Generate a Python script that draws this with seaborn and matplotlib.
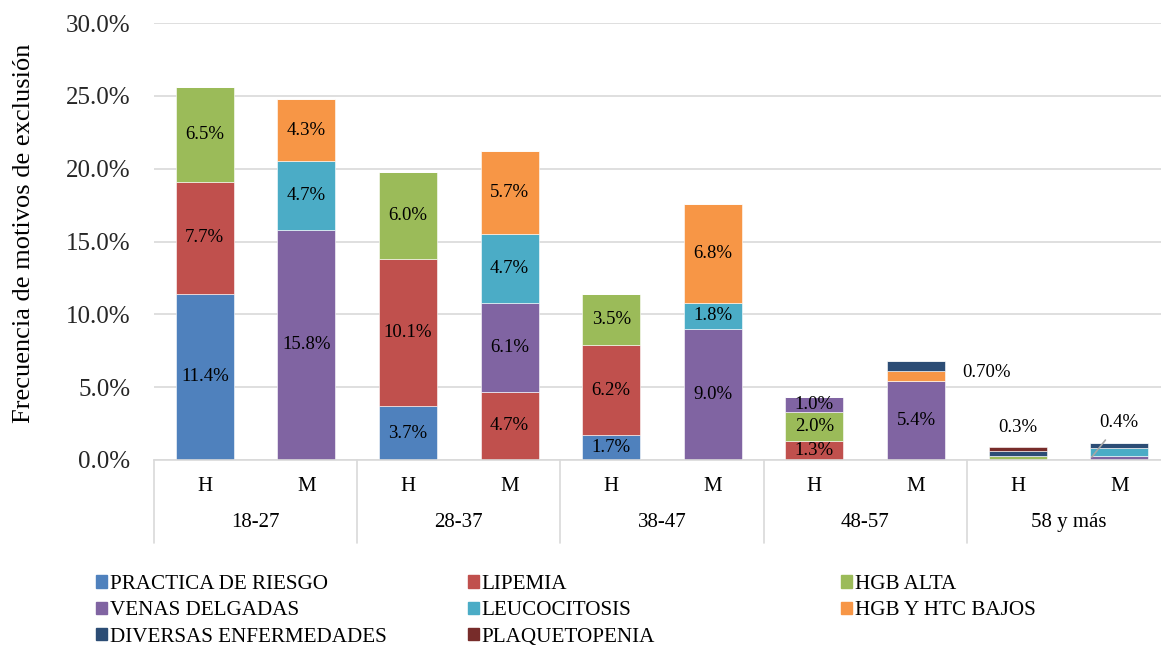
import numpy as np
import pandas as pd
import matplotlib
matplotlib.use("Agg")
import matplotlib.pyplot as plt
import matplotlib.patches as mpatches
import matplotlib.transforms as mtransforms
import seaborn as sns

# Data (percent of exclusions), one value per bar: age group x sex
age_groups = ["18-27", "28-37", "38-47", "48-57", "58 y más"]
sexes = ["H", "M"]

series_names = [
    "PRACTICA DE RIESGO", "LIPEMIA", "HGB ALTA", "VENAS DELGADAS",
    "LEUCOCITOSIS", "HGB Y HTC BAJOS", "DIVERSAS ENFERMEDADES", "PLAQUETOPENIA",
]
series_colors = [
    "#4F81BD", "#C0504D", "#9BBB59", "#8064A2",
    "#4BACC6", "#F79646", "#2C4D75", "#772C2A",
]

#                18-27 H/M    28-37 H/M    38-47 H/M    48-57 H/M    58+ H/M
practica     = [11.4, 0.0,   3.7, 0.0,    1.7, 0.0,    0.0, 0.0,    0.0, 0.0]
lipemia      = [7.7,  0.0,   10.1, 4.7,   6.2, 0.0,    1.3, 0.0,    0.0, 0.0]
hgb_alta     = [6.5,  0.0,   6.0, 0.0,    3.5, 0.0,    2.0, 0.0,    0.3, 0.0]
venas        = [0.0,  15.8,  0.0, 6.1,    0.0, 9.0,    1.0, 5.4,    0.0, 0.3]
leucocitosis = [0.0,  4.7,   0.0, 4.7,    0.0, 1.8,    0.0, 0.0,    0.0, 0.5]
hgb_bajos    = [0.0,  4.3,   0.0, 5.7,    0.0, 6.8,    0.0, 0.7,    0.0, 0.0]
diversas     = [0.0,  0.0,   0.0, 0.0,    0.0, 0.0,    0.0, 0.7,    0.3, 0.4]
plaquetop    = [0.0,  0.0,   0.0, 0.0,    0.0, 0.0,    0.0, 0.0,    0.3, 0.0]

# small values labelled outside their bars: (bar index, text)
outside_labels = [(7, "0.70%"), (8, "0.3%"), (9, "0.4%")]

sns.set_style("white")
plt.rcParams["font.family"] = ["Liberation Serif", "DejaVu Serif"]
plt.rcParams["text.color"] = "black"

bar_ids = [f"{g} {s}" for g in age_groups for s in sexes]
df = pd.DataFrame({"bar": bar_ids})
for name, vals in zip(series_names, [practica, lipemia, hgb_alta, venas,
                                     leucocitosis, hgb_bajos, diversas, plaquetop]):
    df[name] = vals

fig = plt.figure(figsize=(11.61, 6.48), dpi=100)
ax = fig.add_axes([154 / 1161, 188 / 648, 1016 / 1161, 437 / 648])

label_size = 13.5
bottom = np.zeros(len(bar_ids))
for name, color in zip(series_names, series_colors):
    vals = df[name].to_numpy()
    sns.barplot(data=df, x="bar", y=name, order=bar_ids, color=color,
                saturation=1, width=0.57, errorbar=None, bottom=bottom.copy(),
                edgecolor="white", linewidth=0.4, ax=ax)
    for i, v in enumerate(vals):
        if v >= 1.0:
            ax.text(i, bottom[i] + v / 2, f"{v:.1f}%", ha="center", va="center",
                    fontsize=label_size)
    bottom += vals

# labels for the thin segments
lbl = dict(outside_labels)
ax.text(7.46, 6.0, lbl[7], ha="left", va="center", fontsize=label_size)
ax.text(8.0, 2.2, lbl[8], ha="center", va="center", fontsize=label_size)
ax.annotate(lbl[9], xy=(8.73, 0.2), xytext=(9.0, 2.55), ha="center", va="center",
            fontsize=label_size,
            arrowprops=dict(arrowstyle="-", color="#A6A6A6", lw=1.2,
                            shrinkA=5, shrinkB=0))

ax.set_xlim(-0.5, 9.5)
ax.set_ylim(0, 30)
ax.set_yticks(np.arange(0, 31, 5))
ax.set_yticklabels([f"{t:.1f}%" for t in np.arange(0, 31, 5)], fontsize=18)
ax.tick_params(axis="y", length=0, pad=17)
ax.set_xticks([])
ax.set_xlabel("")
ax.set_ylabel("")
ax.yaxis.grid(True, color="#D9D9D9", lw=1.2)
ax.set_axisbelow(True)
for side in ["left", "right", "top"]:
    ax.spines[side].set_visible(False)
ax.spines["bottom"].set_color("#D9D9D9")
ax.spines["bottom"].set_linewidth(1.2)

# two-level category axis
trans = mtransforms.blended_transform_factory(ax.transData, ax.transAxes)
for i, b in enumerate(bar_ids):
    ax.text(i, -0.0595, sexes[i % 2], transform=trans, ha="center", va="center",
            fontsize=15)
for k, g in enumerate(age_groups):
    ax.text(2 * k + 0.5, -0.144, g, transform=trans, ha="center", va="center",
            fontsize=15)
for x in np.arange(-0.5, 10, 2):
    ax.plot([x, x], [0, -0.19], transform=trans, color="#D9D9D9", lw=1.2,
            clip_on=False)

fig.text(24 / 1161, 1 - 233 / 648, "Frecuencia de motivos de exclusión",
         rotation=90, ha="center", va="center", fontsize=19)

# legend in three fixed-width columns, row-major order as in the original
handles = [mpatches.Patch(color=c, label=n) for n, c in zip(series_names, series_colors)]
col_x = [96 / 1161, 468 / 1161, 841 / 1161]
for c in range(3):
    fig.legend(handles=handles[c::3], loc="upper left",
               bbox_to_anchor=(col_x[c], 1 - 575 / 648), frameon=False,
               fontsize=15.2, handlelength=0.5, handleheight=0.5,
               handletextpad=0.15, labelspacing=0.35, borderpad=0,
               borderaxespad=0)

fig.savefig("out.png", dpi=100)
